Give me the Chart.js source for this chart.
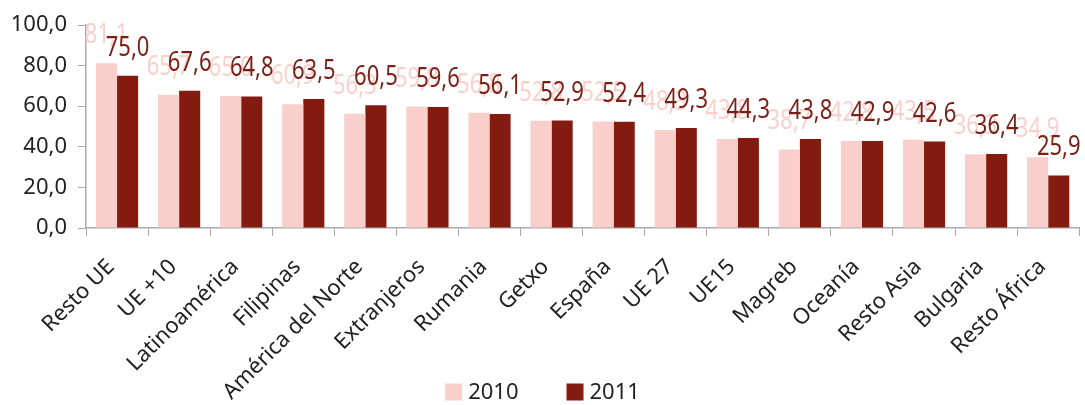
<!DOCTYPE html>
<html>
<head>
<meta charset="utf-8">
<script src="https://cdn.jsdelivr.net/npm/chart.js@4/dist/chart.umd.min.js"></script>
<style>
  html, body { margin: 0; padding: 0; background: #fff; }
  #wrap { width: 1085px; height: 405px; }
</style>
</head>
<body>
<div id="wrap"><canvas id="chart" width="1085" height="405"></canvas></div>
<script>
const categories = ["Resto UE", "UE +10", "Latinoamérica", "Filipinas", "América del Norte",
  "Extranjeros", "Rumania", "Getxo", "España", "UE 27", "UE15", "Magreb", "Oceanía",
  "Resto Asia", "Bulgaria", "Resto África"];
const values2010 = [81.1, 65.7, 65.0, 60.9, 56.3, 59.8, 56.8, 52.8, 52.5, 48.3, 43.8, 38.7, 42.8, 43.5, 36.3, 34.9];
const values2011 = [75.0, 67.6, 64.8, 63.5, 60.5, 59.6, 56.1, 52.9, 52.4, 49.3, 44.3, 43.8, 42.9, 42.6, 36.4, 25.9];
const yTicks = [0, 20, 40, 60, 80, 100];

const fmt = (v) => v.toFixed(1).replace('.', ',');
const FONT = "'Noto Sans', 'Open Sans', sans-serif";

// etiquetas encima de cada barra (algo estiradas en vertical, como en el original)
const valueLabels = {
  id: 'valueLabels',
  afterDatasetsDraw(chart) {
    const ctx = chart.ctx;
    chart.data.datasets.forEach((ds, i) => {
      const meta = chart.getDatasetMeta(i);
      meta.data.forEach((bar, j) => {
        ctx.save();
        ctx.font = `22px ${FONT}`;
        ctx.textAlign = 'center';
        ctx.textBaseline = 'alphabetic';
        ctx.fillStyle = ds.labelColor;
        ctx.translate(bar.x, bar.y - 20);
        ctx.scale(1, 1.25);
        ctx.fillText(fmt(ds.data[j]), 0, 0);
        ctx.restore();
      });
    });
  }
};

// leyenda abajo, centrada (dibujada a mano para que no recorte las etiquetas del eje)
const bottomLegend = {
  id: 'bottomLegend',
  afterDraw(chart) {
    const ctx = chart.ctx;
    const box = 17, gap = 6, spacing = 48, cy = 392;
    ctx.save();
    ctx.font = `22px ${FONT}`;
    ctx.textBaseline = 'middle';
    const items = chart.data.datasets.map(ds => ({ text: ds.label, color: ds.backgroundColor, w: ctx.measureText(ds.label).width }));
    const total = items.reduce((s, it) => s + box + gap + it.w, 0) + spacing * (items.length - 1);
    let x = chart.width / 2 - total / 2;
    items.forEach(it => {
      ctx.fillStyle = it.color;
      ctx.fillRect(x, cy - box / 2, box, box);
      ctx.fillStyle = '#222';
      ctx.fillText(it.text, x + box + gap, cy + 1);
      x += box + gap + it.w + spacing;
    });
    ctx.restore();
  }
};

new Chart(document.getElementById('chart'), {
  type: 'bar',
  data: {
    labels: categories,
    datasets: [
      { label: '2010', data: values2010, backgroundColor: '#f8cfcb', labelColor: '#f8d0cc' },
      { label: '2011', data: values2011, backgroundColor: '#841b10', labelColor: '#7a1f15' }
    ]
  },
  options: {
    responsive: false,
    animation: false,
    devicePixelRatio: 1,
    layout: { padding: { top: 25, right: 5, left: 0, bottom: 0 } },
    datasets: { bar: { barPercentage: 1, categoryPercentage: 0.68 } },
    plugins: {
      legend: { display: false },
      tooltip: { enabled: false }
    },
    scales: {
      x: {
        afterFit: (axis) => { axis.height = 405 - 228; },
        grid: { drawOnChartArea: false, drawTicks: true, tickLength: 8, color: '#aaa', offset: true },
        border: { color: '#aaa', width: 1.5 },
        ticks: {
          maxRotation: 45, minRotation: 45, autoSkip: false, labelOffset: -6,
          color: '#222', font: { family: FONT, size: 22 }, padding: 18
        }
      },
      y: {
        min: 0, max: 100,
        afterFit: (axis) => { axis.width = 86; },
        afterBuildTicks: (axis) => { axis.ticks = yTicks.map(v => ({ value: v })); },
        grid: { drawOnChartArea: false, drawTicks: true, tickLength: 8, color: '#aaa' },
        border: { color: '#aaa', width: 1.5 },
        ticks: {
          color: '#222', font: { family: FONT, size: 22 }, padding: 11,
          callback: (v) => fmt(v)
        }
      }
    }
  },
  plugins: [valueLabels, bottomLegend]
});
</script>
</body>
</html>
